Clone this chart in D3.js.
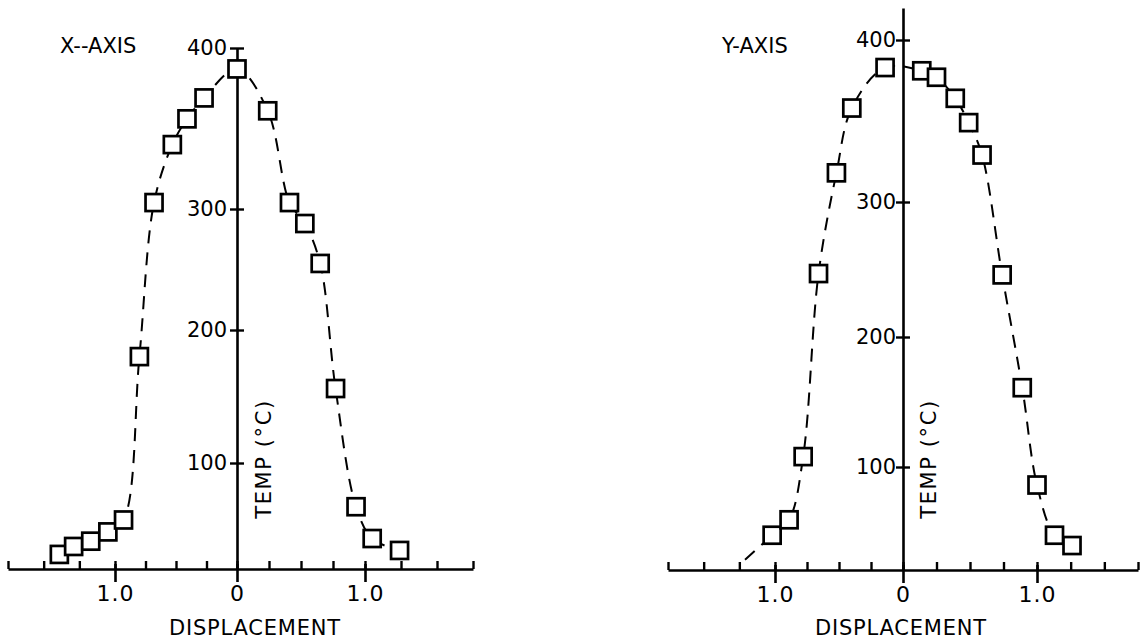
<!DOCTYPE html>
<html>
<head>
<meta charset="utf-8">
<script src="https://cdn.jsdelivr.net/npm/d3@7"></script>
<style>
  body { margin: 0; background: #fff; }
  text { font-family: "DejaVu Sans", sans-serif; fill: #000; }
</style>
</head>
<body>
<script>
const width = 1145;
const height = 644;

// X-axis scan: displacement vs temperature
const xScanDisp = [-1.39, -1.29, -1.17, -1.05, -0.93, -0.80, -0.68, -0.53, -0.41, -0.27, 0.0, 0.24, 0.41, 0.53, 0.65, 0.77, 0.93, 1.05, 1.24];
const xScanTemp = [31, 37, 41, 48, 57, 180, 304, 340, 356, 369, 387, 361, 304, 288, 255, 156, 67, 43, 34];

// Y-axis scan
const yScanDisp = [-1.02, -0.89, -0.78, -0.66, -0.52, -0.40, -0.14, 0.14, 0.25, 0.39, 0.49, 0.59, 0.74, 0.89, 1.00, 1.13, 1.26];
const yScanTemp = [47, 59, 108, 247, 318, 358, 383, 381, 377, 364, 349, 329, 246, 161, 86, 47, 39];

// dashed fit runs on a little past the last Y-axis point
const yTailDisp = [-1.21];
const yTailTemp = [28];

// axis ticks
const dispTicks = [-1.75, -1.5, -1.25, -1, -0.75, -0.5, -0.25, 0, 0.25, 0.5, 0.75, 1, 1.25, 1.5, 1.75];
const dispMajor = [-1, 0, 1];
const tempTicks = [100, 200, 300, 400];

let svg = d3
  .select('body')
  .append('svg')
  .attr('width', width)
  .attr('height', height);

function drawPanel(p) {
  // hand-drawn axes are not evenly spaced, so use piecewise scales
  let x = d3.scaleLinear().domain([-1.75, -1, 0, 1, 1.75]).range(p.xRange);
  let y = d3.scaleLinear().domain(p.yDomain).range(p.yRange);

  let g = svg.append('g');

  // minor ticks point up from the baseline
  let minor = g
    .append('g')
    .attr('transform', `translate(0, ${y(20)})`)
    .call(d3.axisBottom(x).tickValues(dispTicks).tickSizeInner(-8).tickSizeOuter(0).tickFormat(''));
  minor.select('.domain').attr('stroke', '#000').attr('stroke-width', 2.6);
  minor.selectAll('.tick line').attr('stroke', '#000').attr('stroke-width', 2.4);

  // labelled ticks cross the baseline
  let major = g
    .append('g')
    .attr('transform', `translate(0, ${y(20)})`)
    .call(d3.axisBottom(x).tickValues(dispMajor).tickSize(13).tickFormat((d) => (d === 0 ? '0' : '1.0')));
  major.select('.domain').remove();
  major.selectAll('.tick line').attr('y1', -5).attr('stroke', '#000').attr('stroke-width', 2.6);
  major
    .selectAll('.tick text')
    .attr('y', 32)
    .attr('dy', null)
    .attr('font-size', 22)
    .attr('letter-spacing', 1)
    .attr('fill', '#000');

  // temperature axis
  let left = g
    .append('g')
    .attr('transform', `translate(${x(0)}, 0)`)
    .call(d3.axisLeft(y).tickValues(tempTicks).tickSizeInner(7).tickSizeOuter(0).tickPadding(p.tickPad));
  left.select('.domain').attr('stroke', '#000').attr('stroke-width', 2.6);
  left.selectAll('.tick line').attr('x2', -7).attr('x1', 7).attr('stroke', '#000').attr('stroke-width', 2.4);
  left.selectAll('.tick text').attr('font-size', 21).attr('fill', '#000');

  // dashed fitted curve
  let pts = p.disp.map((d, i) => [d, p.temp[i]]);
  let curvePts = p.tailDisp.map((d, i) => [d, p.tailTemp[i]]).concat(pts);
  g.append('path')
    .datum(curvePts)
    .attr('fill', 'none')
    .attr('stroke', '#000')
    .attr('stroke-width', 2)
    .attr('stroke-dasharray', '13,9')
    .attr('d', d3.line().x((d) => x(d[0])).y((d) => y(d[1])).curve(d3.curveCatmullRom.alpha(0.5)));

  // square markers
  let s = 17;
  g.selectAll('rect.pt')
    .data(pts)
    .join('rect')
    .attr('class', 'pt')
    .attr('x', (d) => x(d[0]) - s / 2)
    .attr('y', (d) => y(d[1]) - s / 2)
    .attr('width', s)
    .attr('height', s)
    .attr('fill', '#fff')
    .attr('stroke', '#000')
    .attr('stroke-width', 2.7);

  // titles
  g.append('text')
    .attr('x', p.titleX)
    .attr('y', 53)
    .attr('font-size', 21)
    .text(p.title);

  g.append('text')
    .attr('x', p.dispX)
    .attr('y', 635)
    .attr('text-anchor', 'middle')
    .attr('font-size', 21)
    .attr('letter-spacing', 0.8)
    .text('DISPLACEMENT');

  g.append('text')
    .attr('transform', `translate(${p.tempX}, 459) rotate(-90)`)
    .attr('text-anchor', 'middle')
    .attr('font-size', 21)
    .attr('letter-spacing', 1.6)
    .text('TEMP  (°C)');
}

drawPanel({
  title: 'X--AXIS',
  titleX: 60,
  disp: xScanDisp,
  temp: xScanTemp,
  tailDisp: [],
  tailTemp: [],
  xRange: [8, 115, 237, 365, 473],
  yDomain: [20, 100, 200, 300, 400],
  yRange: [569, 463, 330, 209, 48],
  tickPad: 3,
  dispX: 255,
  tempX: 271
});

drawPanel({
  title: 'Y-AXIS',
  titleX: 722,
  disp: yScanDisp,
  temp: yScanTemp,
  tailDisp: yTailDisp,
  tailTemp: yTailTemp,
  xRange: [668, 775, 903, 1037, 1138],
  yDomain: [20, 100, 200, 300, 400, 420],
  yRange: [570, 467, 337, 202, 40, 8],
  tickPad: 0,
  dispX: 901,
  tempX: 936
});
</script>
</body>
</html>
